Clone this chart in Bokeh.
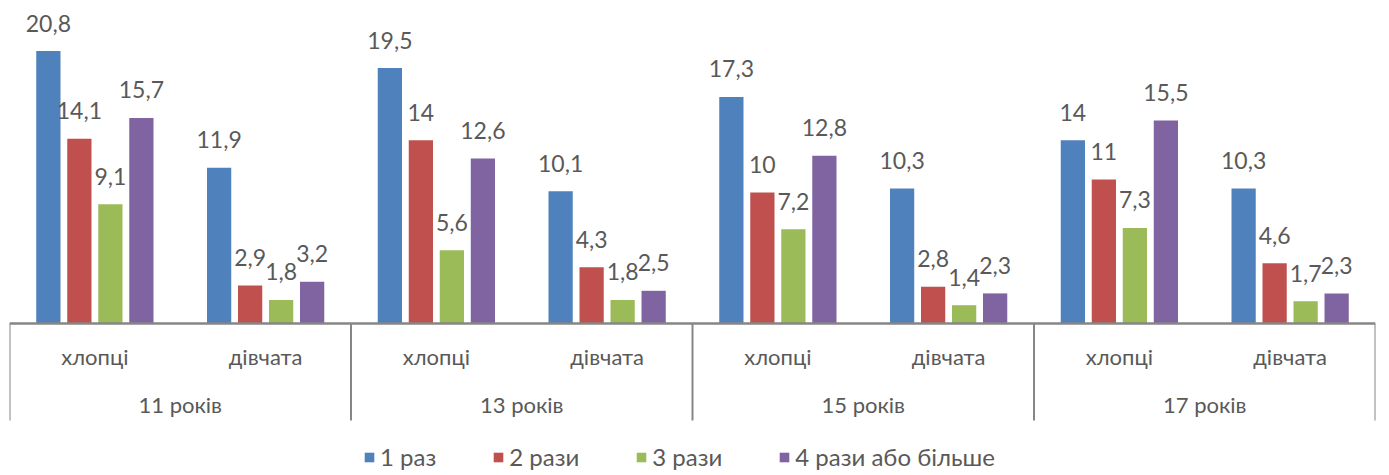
from bokeh.plotting import figure
from bokeh.models import FactorRange, ColumnDataSource, Legend, LegendItem, Range1d
from bokeh.transform import dodge
from bokeh.core.properties import value
from bokeh.embed import file_html
from bokeh.resources import INLINE

ages = ["11 років", "13 років", "15 років", "17 років"]
genders = ["хлопці", "дівчата"]
series = ["1 раз", "2 рази", "3 рази", "4 рази або більше"]
once = [20.8, 11.9, 19.5, 10.1, 17.3, 10.3, 14, 10.3]
twice = [14.1, 2.9, 14, 4.3, 10, 2.8, 11, 4.6]
thrice = [9.1, 1.8, 5.6, 1.8, 7.2, 1.4, 7.3, 1.7]
four_plus = [15.7, 3.2, 12.6, 2.5, 12.8, 2.3, 15.5, 2.3]
colors = ["#4F81BD", "#C0504D", "#9BBB59", "#8064A2"]

FONT = "Lato"
TXT = "#595959"
AXC = "#868686"

factors = [(a, g) for a in ages for g in genders]
values = [once, twice, thrice, four_plus]

def fmt(v):
    return f"{v:g}".replace(".", ",")

data = {"x": factors}
for i, vals in enumerate(values):
    data[f"s{i}"] = vals
    data[f"l{i}"] = [fmt(v) for v in vals]
src = ColumnDataSource(data)

p = figure(
    x_range=FactorRange(*factors, factor_padding=0, group_padding=0, range_padding=0),
    y_range=Range1d(-11.6, 24.05),
    width=1389, height=475,
    output_backend="svg", toolbar_location=None,
    x_axis_location=None, y_axis_location=None,
    min_border_left=9, min_border_right=14, min_border_top=8, min_border_bottom=0,
)
p.grid.visible = False
p.outline_line_color = None

pitch = 0.1816
bw = 0.142
renderers = []
for i in range(4):
    off = (i - 1.5) * pitch
    r = p.vbar(x=dodge("x", off, range=p.x_range), top=f"s{i}", width=bw, bottom=0,
               source=src, fill_color=colors[i], line_color=None)
    renderers.append(r)
    p.text(x=dodge("x", off, range=p.x_range), y=f"s{i}", text=f"l{i}", source=src,
           text_font=value(FONT), text_font_size="23px", text_color=TXT,
           text_align="center", text_baseline="middle", y_offset=-28)

# baseline
base = ColumnDataSource({"a": [factors[0]], "b": [factors[-1]]})
p.segment(x0=dodge("a", -0.5, range=p.x_range), y0=0, x1=dodge("b", 0.5, range=p.x_range), y1=0,
          source=base, line_color=AXC, line_width=2.5)

# group separators
sep = ColumnDataSource({"x": [(a, genders[0]) for a in ages]})
p.segment(x0=dodge("x", -0.5, range=p.x_range), y0=0, x1=dodge("x", -0.5, range=p.x_range), y1=-7.4,
          source=sep, line_color=AXC, line_width=2)
sep_end = ColumnDataSource({"x": [factors[-1]]})
p.segment(x0=dodge("x", 0.5, range=p.x_range), y0=0, x1=dodge("x", 0.5, range=p.x_range), y1=-7.4,
          source=sep_end, line_color=AXC, line_width=2)

# category labels
glab = ColumnDataSource({"x": factors, "t": [g for _, g in factors]})
p.text(x="x", y=0, text="t", source=glab, y_offset=33,
       text_font=value(FONT), text_font_size="22px", text_color=TXT,
       text_align="center", text_baseline="middle")
alab = ColumnDataSource({"x": ages, "t": ages})
p.text(x="x", y=0, text="t", source=alab, y_offset=81,
       text_font=value(FONT), text_font_size="22px", text_color=TXT,
       text_align="center", text_baseline="middle")

legend = Legend(
    items=[LegendItem(label=series[i], renderers=[renderers[i]]) for i in range(4)],
    orientation="horizontal", location=(354, 4),
    glyph_width=12, glyph_height=12, label_height=12, label_standoff=5, spacing=56,
    padding=0, margin=0, border_line_color=None, background_fill_alpha=0,
    label_text_font=FONT, label_text_font_size="24px", label_text_color=TXT,
)
p.add_layout(legend)

open("out.html", "w").write(file_html(p, INLINE))
